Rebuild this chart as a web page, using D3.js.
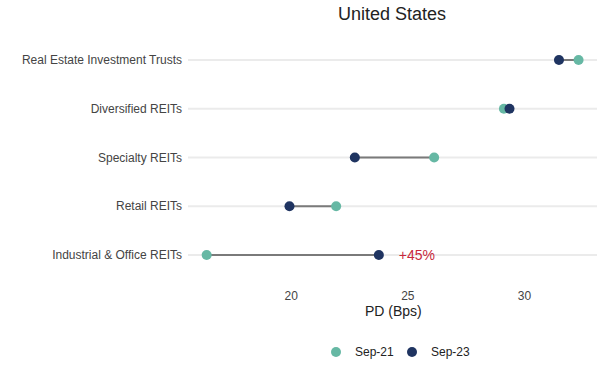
<!DOCTYPE html>
<html>
<head>
<meta charset="utf-8">
<script src="https://cdn.jsdelivr.net/npm/d3@7"></script>
<style>
  body { margin: 0; background: #fff; }
  svg { font-family: "Liberation Sans", Arial, sans-serif; }
</style>
</head>
<body>
<svg id="chart" width="605" height="378"></svg>
<script>
// data
const categories = ['Real Estate Investment Trusts', 'Diversified REITs', 'Specialty REITs', 'Retail REITs', 'Industrial & Office REITs'];
const sep21 = [32.34, 29.14, 26.15, 21.95, 16.4];
const sep23 = [31.5, 29.38, 22.75, 19.95, 23.78];
const seriesNames = ['Sep-21', 'Sep-23'];
const seriesColors = ['#66b8a4', '#1f3461'];
const xTicks = [20, 25, 30];

const svg = d3.select('#chart');
const margin = {left: 188, right: 8, top: 36, bottom: 100};
const width = 605, height = 378;

const x = d3.scaleLinear()
  .domain([15.6, 33.13])
  .range([margin.left, width - margin.right]);

const y = d3.scalePoint()
  .domain(categories)
  .range([60, 255]);

// title
svg.append('text')
  .attr('x', 392).attr('y', 20)
  .attr('text-anchor', 'middle')
  .attr('font-size', 18)
  .attr('fill', '#222')
  .text('United States');

// gridlines
svg.append('g')
  .selectAll('line')
  .data(categories)
  .join('line')
    .attr('x1', margin.left).attr('x2', width - margin.right)
    .attr('y1', d => y(d)).attr('y2', d => y(d))
    .attr('stroke', '#ebebeb')
    .attr('stroke-width', 2);

// y labels
svg.append('g')
  .selectAll('text')
  .data(categories)
  .join('text')
    .attr('x', 182).attr('y', d => y(d))
    .attr('dy', '0.35em')
    .attr('text-anchor', 'end')
    .attr('font-size', 12)
    .attr('fill', '#444')
    .text(d => d);

// x axis
const xAxis = svg.append('g')
  .attr('transform', 'translate(0, 291)')
  .call(d3.axisBottom(x).tickValues(xTicks).tickSize(0).tickPadding(0));
xAxis.select('.domain').remove();
xAxis.selectAll('text')
  .attr('font-size', 12)
  .attr('fill', '#444')
  .attr('font-family', '"Liberation Sans", Arial, sans-serif');

svg.append('text')
  .attr('x', x(25) - 14).attr('y', 316)
  .attr('text-anchor', 'middle')
  .attr('font-size', 14)
  .attr('fill', '#222')
  .text('PD (Bps)');

const rows = categories.map((c, i) => ({c, a: sep21[i], b: sep23[i]}));

// connecting lines
svg.append('g')
  .selectAll('line')
  .data(rows)
  .join('line')
    .attr('x1', d => x(d.a)).attr('x2', d => x(d.b))
    .attr('y1', d => y(d.c)).attr('y2', d => y(d.c))
    .attr('stroke', '#7a7a7a')
    .attr('stroke-width', 2);

// dots
[sep21, sep23].forEach((vals, s) => {
  svg.append('g')
    .selectAll('circle')
    .data(vals)
    .join('circle')
      .attr('cx', d => x(d))
      .attr('cy', (d, i) => y(categories[i]))
      .attr('r', 5)
      .attr('fill', seriesColors[s]);
});

// change annotation
const last = rows[rows.length - 1];
const pct = Math.round((last.b / last.a - 1) * 100);
svg.append('text')
  .attr('x', x(last.b) + 20).attr('y', y(last.c))
  .attr('dy', '0.35em')
  .attr('font-size', 14)
  .attr('fill', '#c8283c')
  .text(`+${pct}%`);

// legend
const legend = svg.append('g')
  .selectAll('g')
  .data(seriesNames)
  .join('g')
    .attr('transform', (d, i) => `translate(${336 + i * 76}, 352)`);
legend.append('circle')
  .attr('r', 5)
  .attr('fill', (d, i) => seriesColors[i]);
legend.append('text')
  .attr('x', 19).attr('dy', '0.35em')
  .attr('font-size', 12)
  .attr('fill', '#222')
  .text(d => d);
</script>
</body>
</html>
